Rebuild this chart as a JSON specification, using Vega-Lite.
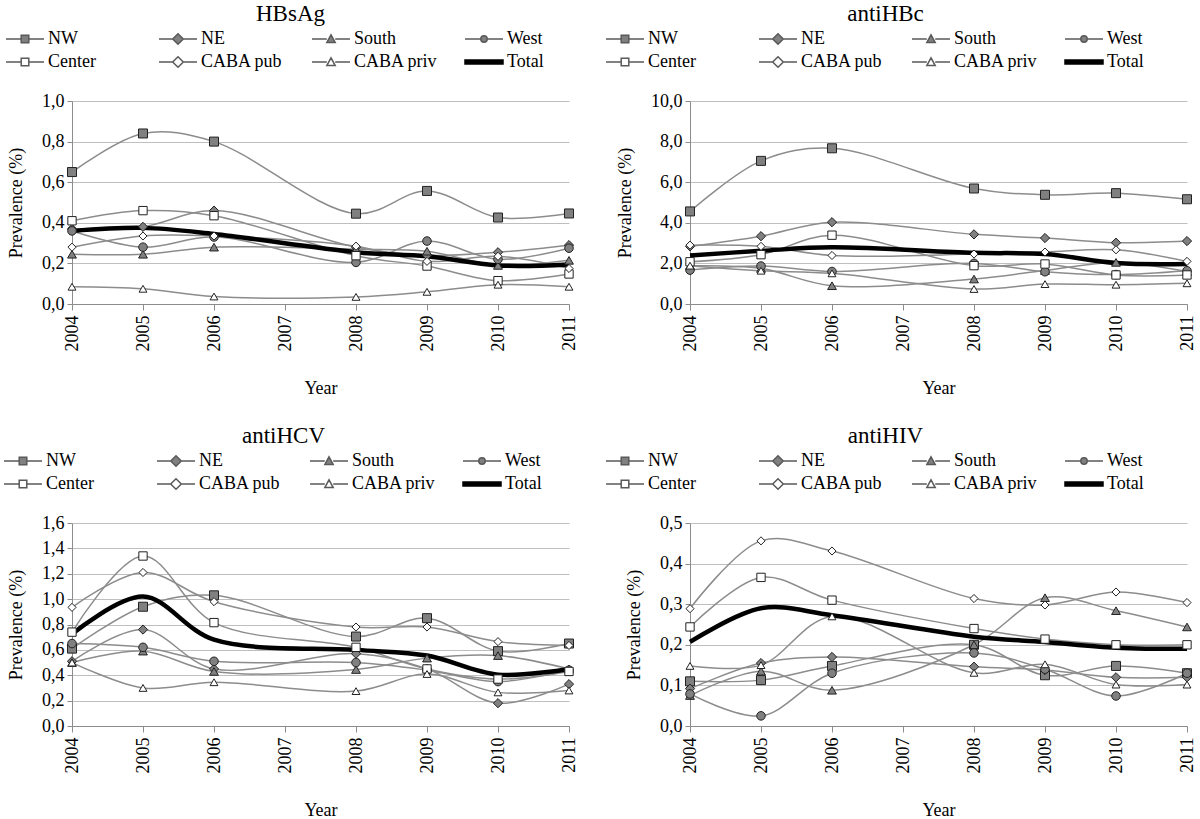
{
  "$schema": "https://vega.github.io/schema/vega-lite/v6.json",
  "background": "white",
  "padding": {"left": 7, "top": 3, "right": 0, "bottom": 0},
  "bounds": "flush",
  "columns": 2,
  "spacing": {"row": 219, "column": 121},
  "config": {
    "font": "Liberation Serif",
    "view": {"stroke": null},
    "title": {"font": "Liberation Serif", "fontSize": 23, "fontWeight": "normal", "color": "black", "anchor": "middle"},
    "legend": {"labelFont": "Liberation Serif", "labelFontSize": 18, "labelColor": "black"},
    "axis": {"labelFontSize": 18, "titleFontSize": 18, "titleFontWeight": "normal", "labelColor": "black", "titleColor": "black", "domainColor": "#8c8c8c", "tickColor": "#8c8c8c", "gridColor": "#bfbfbf"}
  },
  "data": {"values": [
    {"panel":"HBsAg","year":2004,"NW":0.65,"NE":0.37,"South":0.245,"West":0.36,"Center":0.41,"CABA pub":0.28,"CABA priv":0.085,"Total":0.36},
    {"panel":"HBsAg","year":2005,"NW":0.84,"NE":0.38,"South":0.245,"West":0.28,"Center":0.46,"CABA pub":0.335,"CABA priv":0.075,"Total":0.375},
    {"panel":"HBsAg","year":2006,"NW":0.80,"NE":0.46,"South":0.28,"West":0.33,"Center":0.435,"CABA pub":0.335,"CABA priv":0.037,"Total":0.345},
    {"panel":"HBsAg","year":2008,"NW":0.445,"NE":0.28,"South":0.27,"West":0.205,"Center":0.238,"CABA pub":0.285,"CABA priv":0.035,"Total":0.255},
    {"panel":"HBsAg","year":2009,"NW":0.557,"NE":0.24,"South":0.26,"West":0.31,"Center":0.187,"CABA pub":0.21,"CABA priv":0.06,"Total":0.235},
    {"panel":"HBsAg","year":2010,"NW":0.426,"NE":0.255,"South":0.19,"West":0.22,"Center":0.115,"CABA pub":0.235,"CABA priv":0.095,"Total":0.19},
    {"panel":"HBsAg","year":2011,"NW":0.446,"NE":0.29,"South":0.215,"West":0.275,"Center":0.148,"CABA pub":0.175,"CABA priv":0.085,"Total":0.195},
    {"panel":"antiHBc","year":2004,"NW":4.56,"NE":2.84,"South":1.88,"West":1.67,"Center":2.08,"CABA pub":2.9,"CABA priv":1.89,"Total":2.39},
    {"panel":"antiHBc","year":2005,"NW":7.05,"NE":3.34,"South":1.75,"West":1.87,"Center":2.43,"CABA pub":2.84,"CABA priv":1.64,"Total":2.62},
    {"panel":"antiHBc","year":2006,"NW":7.67,"NE":4.03,"South":0.9,"West":1.6,"Center":3.39,"CABA pub":2.39,"CABA priv":1.51,"Total":2.79},
    {"panel":"antiHBc","year":2008,"NW":5.69,"NE":3.43,"South":1.23,"West":2.0,"Center":1.89,"CABA pub":2.46,"CABA priv":0.74,"Total":2.52},
    {"panel":"antiHBc","year":2009,"NW":5.38,"NE":3.25,"South":1.65,"West":1.59,"Center":1.97,"CABA pub":2.56,"CABA priv":0.98,"Total":2.46},
    {"panel":"antiHBc","year":2010,"NW":5.46,"NE":3.02,"South":2.05,"West":1.45,"Center":1.43,"CABA pub":2.67,"CABA priv":0.95,"Total":2.02},
    {"panel":"antiHBc","year":2011,"NW":5.16,"NE":3.1,"South":1.6,"West":1.64,"Center":1.43,"CABA pub":2.1,"CABA priv":1.02,"Total":1.97},
    {"panel":"antiHCV","year":2004,"NW":0.61,"NE":0.51,"South":0.5,"West":0.65,"Center":0.74,"CABA pub":0.935,"CABA priv":0.5,"Total":0.725},
    {"panel":"antiHCV","year":2005,"NW":0.94,"NE":0.76,"South":0.59,"West":0.62,"Center":1.34,"CABA pub":1.21,"CABA priv":0.3,"Total":1.02},
    {"panel":"antiHCV","year":2006,"NW":1.03,"NE":0.45,"South":0.43,"West":0.51,"Center":0.815,"CABA pub":0.98,"CABA priv":0.345,"Total":0.68},
    {"panel":"antiHCV","year":2008,"NW":0.705,"NE":0.57,"South":0.445,"West":0.5,"Center":0.62,"CABA pub":0.78,"CABA priv":0.275,"Total":0.6},
    {"panel":"antiHCV","year":2009,"NW":0.85,"NE":0.45,"South":0.535,"West":0.44,"Center":0.45,"CABA pub":0.78,"CABA priv":0.41,"Total":0.555},
    {"panel":"antiHCV","year":2010,"NW":0.59,"NE":0.18,"South":0.555,"West":0.35,"Center":0.37,"CABA pub":0.665,"CABA priv":0.265,"Total":0.405},
    {"panel":"antiHCV","year":2011,"NW":0.65,"NE":0.33,"South":0.45,"West":0.44,"Center":0.43,"CABA pub":0.635,"CABA priv":0.28,"Total":0.45},
    {"panel":"antiHIV","year":2004,"NW":0.11,"NE":0.092,"South":0.075,"West":0.079,"Center":0.244,"CABA pub":0.289,"CABA priv":0.148,"Total":0.207},
    {"panel":"antiHIV","year":2005,"NW":0.113,"NE":0.155,"South":0.135,"West":0.025,"Center":0.366,"CABA pub":0.456,"CABA priv":0.15,"Total":0.29},
    {"panel":"antiHIV","year":2006,"NW":0.148,"NE":0.17,"South":0.088,"West":0.13,"Center":0.31,"CABA pub":0.431,"CABA priv":0.27,"Total":0.273},
    {"panel":"antiHIV","year":2008,"NW":0.2,"NE":0.146,"South":0.2,"West":0.18,"Center":0.24,"CABA pub":0.314,"CABA priv":0.131,"Total":0.22},
    {"panel":"antiHIV","year":2009,"NW":0.125,"NE":0.138,"South":0.316,"West":0.14,"Center":0.214,"CABA pub":0.298,"CABA priv":0.152,"Total":0.207},
    {"panel":"antiHIV","year":2010,"NW":0.148,"NE":0.12,"South":0.284,"West":0.074,"Center":0.2,"CABA pub":0.33,"CABA priv":0.102,"Total":0.193},
    {"panel":"antiHIV","year":2011,"NW":0.13,"NE":0.12,"South":0.244,"West":0.13,"Center":0.2,"CABA pub":0.304,"CABA priv":0.102,"Total":0.19}
  ]},
  "resolve": {
    "scale": {"shape": "independent", "fill": "independent", "size": "independent", "stroke": "independent"},
    "legend": {"shape": "independent", "fill": "independent", "size": "independent", "stroke": "independent"}
  },
  "concat": [
    {
      "width": 497, "height": 203,
      "title": {"text": "HBsAg", "dx": -30, "offset": 2},
      "transform": [{"filter": "datum.panel === 'HBsAg'"}, {"fold": ["NW","NE","South","West","Center","CABA pub","CABA priv","Total"], "as": ["series","value"]}],
      "encoding": {
        "x": {"field": "year", "type": "quantitative", "scale": {"domain": [2004, 2011], "zero": false, "nice": false}, "axis": {"values": [2004,2005,2006,2007,2008,2009,2010,2011], "format": "d", "labelAngle": 270, "grid": false, "tickSize": 6, "labelPadding": 5, "title": "Year", "titlePadding": 28, "labelFont": "Liberation Serif", "titleFont": "Liberation Serif"}},
        "y": {"field": "value", "type": "quantitative", "scale": {"domain": [0, 1], "nice": false}, "axis": {"values": [0,0.2,0.4,0.6,0.8,1], "labelExpr": "replace(format(datum.value, '.1f'), '.', ',')", "grid": true, "tickSize": 5, "labelPadding": 3, "title": "Prevalence (%)", "titlePadding": 16, "labelFont": "Liberation Serif", "titleFont": "Liberation Serif"}}
      },
      "resolve": {"scale": {"shape": "independent", "fill": "independent", "size": "independent", "stroke": "independent"}, "legend": {"shape": "independent", "fill": "independent", "size": "independent", "stroke": "independent"}},
      "layer": [
        {"transform": [{"filter": "datum.series !== 'Total'"}], "mark": {"type": "line", "interpolate": "catmull-rom", "color": "#8c8c8c", "strokeWidth": 1.5}, "encoding": {"detail": {"field": "series"}}},
        {"transform": [{"filter": "datum.series === 'Total'"}], "mark": {"type": "line", "interpolate": "catmull-rom", "color": "black", "strokeWidth": 4.5}, "encoding": {"detail": {"field": "series"}}},
        {"transform": [{"filter": "datum.series !== 'Total'"}], "mark": {"type": "point", "filled": true, "stroke": "#222222", "strokeWidth": 1, "opacity": 1},
         "encoding": {
           "shape": {"field": "series", "type": "nominal", "scale": {"domain": ["Total","CABA priv","CABA pub","Center","West","South","NE","NW"], "range": ["circle","triangle-up","diamond","square","circle","triangle-up","diamond","square"]}, "legend": null},
           "fill": {"field": "series", "type": "nominal", "scale": {"domain": ["Total","CABA priv","CABA pub","Center","West","South","NE","NW"], "range": ["transparent","white","white","white","#808080","#808080","#808080","#808080"]}, "legend": null},
           "size": {"field": "series", "type": "nominal", "scale": {"domain": ["NE","NW","South","West","Center","CABA pub","CABA priv","Total"], "range": [85,58,62,50,58,85,62,50]}, "legend": null}
         }},
        {"transform": [{"filter": "false"}], "mark": {"type": "point", "filled": true, "opacity": 1, "strokeWidth": 1.2},
         "encoding": {
           "shape": {"field": "series", "type": "nominal", "scale": {"domain": ["NW","NE","South","West","Center","CABA pub","CABA priv","Total"], "range": ["M-1.9,0H-0.38M0.38,0H1.9M-0.38,-0.38H0.38V0.38H-0.38Z","M-1.9,0H-0.53M0.53,0H1.9M-0.53,0L0,-0.53L0.53,0L0,0.53Z","M-1.9,0H-0.42M0.42,0H1.9M-0.42,0.36L0,-0.42L0.42,0.36Z","M-1.9,0H-0.32M0.32,0H1.9M-0.32,0A0.32,0.32,0,1,0,0.32,0A0.32,0.32,0,1,0,-0.32,0Z","M-1.9,0H-0.38M0.38,0H1.9M-0.38,-0.38H0.38V0.38H-0.38Z","M-1.9,0H-0.53M0.53,0H1.9M-0.53,0L0,-0.53L0.53,0L0,0.53Z","M-1.9,0H-0.42M0.42,0H1.9M-0.42,0.36L0,-0.42L0.42,0.36Z","M-1.9,-0.2H1.9V0.2H-1.9Z"]},
             "legend": {"orient": "none", "legendX": -58, "legendY": -73, "columns": 4, "direction": "horizontal", "gridAlign": "all", "columnPadding": 24, "rowPadding": 3, "symbolSize": 400, "labelOffset": 12, "title": null, "padding": 0}},
           "fill": {"field": "series", "type": "nominal", "scale": {"domain": ["NW","NE","South","West","Center","CABA pub","CABA priv","Total"], "range": ["#808080","#808080","#808080","#808080","white","white","white","black"]}},
           "stroke": {"field": "series", "type": "nominal", "scale": {"domain": ["NW","NE","South","West","Center","CABA pub","CABA priv","Total"], "range": ["#595959","#595959","#595959","#595959","#595959","#595959","#595959","black"]}}
         }}
      ]
    },
    {
      "width": 497, "height": 203,
      "title": {"text": "antiHBc", "dx": -53, "offset": 2},
      "transform": [{"filter": "datum.panel === 'antiHBc'"}, {"fold": ["NW","NE","South","West","Center","CABA pub","CABA priv","Total"], "as": ["series","value"]}],
      "encoding": {
        "x": {"field": "year", "type": "quantitative", "scale": {"domain": [2004, 2011], "zero": false, "nice": false}, "axis": {"values": [2004,2005,2006,2007,2008,2009,2010,2011], "format": "d", "labelAngle": 270, "grid": false, "tickSize": 6, "labelPadding": 5, "title": "Year", "titlePadding": 28, "labelFont": "Liberation Serif", "titleFont": "Liberation Serif"}},
        "y": {"field": "value", "type": "quantitative", "scale": {"domain": [0, 10], "nice": false}, "axis": {"values": [0,2,4,6,8,10], "labelExpr": "replace(format(datum.value, '.1f'), '.', ',')", "grid": true, "tickSize": 5, "labelPadding": 3, "title": "Prevalence (%)", "titlePadding": 16, "labelFont": "Liberation Serif", "titleFont": "Liberation Serif"}}
      },
      "resolve": {"scale": {"shape": "independent", "fill": "independent", "size": "independent", "stroke": "independent"}, "legend": {"shape": "independent", "fill": "independent", "size": "independent", "stroke": "independent"}},
      "layer": [
        {"transform": [{"filter": "datum.series !== 'Total'"}], "mark": {"type": "line", "interpolate": "catmull-rom", "color": "#8c8c8c", "strokeWidth": 1.5}, "encoding": {"detail": {"field": "series"}}},
        {"transform": [{"filter": "datum.series === 'Total'"}], "mark": {"type": "line", "interpolate": "catmull-rom", "color": "black", "strokeWidth": 4.5}, "encoding": {"detail": {"field": "series"}}},
        {"transform": [{"filter": "datum.series !== 'Total'"}], "mark": {"type": "point", "filled": true, "stroke": "#222222", "strokeWidth": 1, "opacity": 1},
         "encoding": {
           "shape": {"field": "series", "type": "nominal", "scale": {"domain": ["Total","CABA priv","CABA pub","Center","West","South","NE","NW"], "range": ["circle","triangle-up","diamond","square","circle","triangle-up","diamond","square"]}, "legend": null},
           "fill": {"field": "series", "type": "nominal", "scale": {"domain": ["Total","CABA priv","CABA pub","Center","West","South","NE","NW"], "range": ["transparent","white","white","white","#808080","#808080","#808080","#808080"]}, "legend": null},
           "size": {"field": "series", "type": "nominal", "scale": {"domain": ["NE","NW","South","West","Center","CABA pub","CABA priv","Total"], "range": [85,58,62,50,58,85,62,50]}, "legend": null}
         }},
        {"transform": [{"filter": "false"}], "mark": {"type": "point", "filled": true, "opacity": 1, "strokeWidth": 1.2},
         "encoding": {
           "shape": {"field": "series", "type": "nominal", "scale": {"domain": ["NW","NE","South","West","Center","CABA pub","CABA priv","Total"], "range": ["M-1.9,0H-0.38M0.38,0H1.9M-0.38,-0.38H0.38V0.38H-0.38Z","M-1.9,0H-0.53M0.53,0H1.9M-0.53,0L0,-0.53L0.53,0L0,0.53Z","M-1.9,0H-0.42M0.42,0H1.9M-0.42,0.36L0,-0.42L0.42,0.36Z","M-1.9,0H-0.32M0.32,0H1.9M-0.32,0A0.32,0.32,0,1,0,0.32,0A0.32,0.32,0,1,0,-0.32,0Z","M-1.9,0H-0.38M0.38,0H1.9M-0.38,-0.38H0.38V0.38H-0.38Z","M-1.9,0H-0.53M0.53,0H1.9M-0.53,0L0,-0.53L0.53,0L0,0.53Z","M-1.9,0H-0.42M0.42,0H1.9M-0.42,0.36L0,-0.42L0.42,0.36Z","M-1.9,-0.2H1.9V0.2H-1.9Z"]},
             "legend": {"orient": "none", "legendX": -76, "legendY": -73, "columns": 4, "direction": "horizontal", "gridAlign": "all", "columnPadding": 24, "rowPadding": 3, "symbolSize": 400, "labelOffset": 12, "title": null, "padding": 0}},
           "fill": {"field": "series", "type": "nominal", "scale": {"domain": ["NW","NE","South","West","Center","CABA pub","CABA priv","Total"], "range": ["#808080","#808080","#808080","#808080","white","white","white","black"]}},
           "stroke": {"field": "series", "type": "nominal", "scale": {"domain": ["NW","NE","South","West","Center","CABA pub","CABA priv","Total"], "range": ["#595959","#595959","#595959","#595959","#595959","#595959","#595959","black"]}}
         }}
      ]
    },
    {
      "width": 497, "height": 203,
      "title": {"text": "antiHCV", "dx": -37, "offset": 2},
      "transform": [{"filter": "datum.panel === 'antiHCV'"}, {"fold": ["NW","NE","South","West","Center","CABA pub","CABA priv","Total"], "as": ["series","value"]}],
      "encoding": {
        "x": {"field": "year", "type": "quantitative", "scale": {"domain": [2004, 2011], "zero": false, "nice": false}, "axis": {"values": [2004,2005,2006,2007,2008,2009,2010,2011], "format": "d", "labelAngle": 270, "grid": false, "tickSize": 6, "labelPadding": 5, "title": "Year", "titlePadding": 28, "labelFont": "Liberation Serif", "titleFont": "Liberation Serif"}},
        "y": {"field": "value", "type": "quantitative", "scale": {"domain": [0, 1.6], "nice": false}, "axis": {"values": [0,0.2,0.4,0.6,0.8,1,1.2,1.4,1.6], "labelExpr": "replace(format(datum.value, '.1f'), '.', ',')", "grid": true, "tickSize": 5, "labelPadding": 3, "title": "Prevalence (%)", "titlePadding": 16, "labelFont": "Liberation Serif", "titleFont": "Liberation Serif"}}
      },
      "resolve": {"scale": {"shape": "independent", "fill": "independent", "size": "independent", "stroke": "independent"}, "legend": {"shape": "independent", "fill": "independent", "size": "independent", "stroke": "independent"}},
      "layer": [
        {"transform": [{"filter": "datum.series !== 'Total'"}], "mark": {"type": "line", "interpolate": "catmull-rom", "color": "#8c8c8c", "strokeWidth": 1.5}, "encoding": {"detail": {"field": "series"}}},
        {"transform": [{"filter": "datum.series === 'Total'"}], "mark": {"type": "line", "interpolate": "catmull-rom", "color": "black", "strokeWidth": 4.5}, "encoding": {"detail": {"field": "series"}}},
        {"transform": [{"filter": "datum.series !== 'Total'"}], "mark": {"type": "point", "filled": true, "stroke": "#222222", "strokeWidth": 1, "opacity": 1},
         "encoding": {
           "shape": {"field": "series", "type": "nominal", "scale": {"domain": ["Total","CABA priv","CABA pub","Center","West","South","NE","NW"], "range": ["circle","triangle-up","diamond","square","circle","triangle-up","diamond","square"]}, "legend": null},
           "fill": {"field": "series", "type": "nominal", "scale": {"domain": ["Total","CABA priv","CABA pub","Center","West","South","NE","NW"], "range": ["transparent","white","white","white","#808080","#808080","#808080","#808080"]}, "legend": null},
           "size": {"field": "series", "type": "nominal", "scale": {"domain": ["NE","NW","South","West","Center","CABA pub","CABA priv","Total"], "range": [85,58,62,50,58,85,62,50]}, "legend": null}
         }},
        {"transform": [{"filter": "false"}], "mark": {"type": "point", "filled": true, "opacity": 1, "strokeWidth": 1.2},
         "encoding": {
           "shape": {"field": "series", "type": "nominal", "scale": {"domain": ["NW","NE","South","West","Center","CABA pub","CABA priv","Total"], "range": ["M-1.9,0H-0.38M0.38,0H1.9M-0.38,-0.38H0.38V0.38H-0.38Z","M-1.9,0H-0.53M0.53,0H1.9M-0.53,0L0,-0.53L0.53,0L0,0.53Z","M-1.9,0H-0.42M0.42,0H1.9M-0.42,0.36L0,-0.42L0.42,0.36Z","M-1.9,0H-0.32M0.32,0H1.9M-0.32,0A0.32,0.32,0,1,0,0.32,0A0.32,0.32,0,1,0,-0.32,0Z","M-1.9,0H-0.38M0.38,0H1.9M-0.38,-0.38H0.38V0.38H-0.38Z","M-1.9,0H-0.53M0.53,0H1.9M-0.53,0L0,-0.53L0.53,0L0,0.53Z","M-1.9,0H-0.42M0.42,0H1.9M-0.42,0.36L0,-0.42L0.42,0.36Z","M-1.9,-0.2H1.9V0.2H-1.9Z"]},
             "legend": {"orient": "none", "legendX": -60, "legendY": -73, "columns": 4, "direction": "horizontal", "gridAlign": "all", "columnPadding": 24, "rowPadding": 3, "symbolSize": 400, "labelOffset": 12, "title": null, "padding": 0}},
           "fill": {"field": "series", "type": "nominal", "scale": {"domain": ["NW","NE","South","West","Center","CABA pub","CABA priv","Total"], "range": ["#808080","#808080","#808080","#808080","white","white","white","black"]}},
           "stroke": {"field": "series", "type": "nominal", "scale": {"domain": ["NW","NE","South","West","Center","CABA pub","CABA priv","Total"], "range": ["#595959","#595959","#595959","#595959","#595959","#595959","#595959","black"]}}
         }}
      ]
    },
    {
      "width": 497, "height": 203,
      "title": {"text": "antiHIV", "dx": -53, "offset": 2},
      "transform": [{"filter": "datum.panel === 'antiHIV'"}, {"fold": ["NW","NE","South","West","Center","CABA pub","CABA priv","Total"], "as": ["series","value"]}],
      "encoding": {
        "x": {"field": "year", "type": "quantitative", "scale": {"domain": [2004, 2011], "zero": false, "nice": false}, "axis": {"values": [2004,2005,2006,2007,2008,2009,2010,2011], "format": "d", "labelAngle": 270, "grid": false, "tickSize": 6, "labelPadding": 5, "title": "Year", "titlePadding": 28, "labelFont": "Liberation Serif", "titleFont": "Liberation Serif"}},
        "y": {"field": "value", "type": "quantitative", "scale": {"domain": [0, 0.5], "nice": false}, "axis": {"values": [0,0.1,0.2,0.3,0.4,0.5], "labelExpr": "replace(format(datum.value, '.1f'), '.', ',')", "grid": true, "tickSize": 5, "labelPadding": 3, "title": "Prevalence (%)", "titlePadding": 16, "labelFont": "Liberation Serif", "titleFont": "Liberation Serif"}}
      },
      "resolve": {"scale": {"shape": "independent", "fill": "independent", "size": "independent", "stroke": "independent"}, "legend": {"shape": "independent", "fill": "independent", "size": "independent", "stroke": "independent"}},
      "layer": [
        {"transform": [{"filter": "datum.series !== 'Total'"}], "mark": {"type": "line", "interpolate": "catmull-rom", "color": "#8c8c8c", "strokeWidth": 1.5}, "encoding": {"detail": {"field": "series"}}},
        {"transform": [{"filter": "datum.series === 'Total'"}], "mark": {"type": "line", "interpolate": "catmull-rom", "color": "black", "strokeWidth": 4.5}, "encoding": {"detail": {"field": "series"}}},
        {"transform": [{"filter": "datum.series !== 'Total'"}], "mark": {"type": "point", "filled": true, "stroke": "#222222", "strokeWidth": 1, "opacity": 1},
         "encoding": {
           "shape": {"field": "series", "type": "nominal", "scale": {"domain": ["Total","CABA priv","CABA pub","Center","West","South","NE","NW"], "range": ["circle","triangle-up","diamond","square","circle","triangle-up","diamond","square"]}, "legend": null},
           "fill": {"field": "series", "type": "nominal", "scale": {"domain": ["Total","CABA priv","CABA pub","Center","West","South","NE","NW"], "range": ["transparent","white","white","white","#808080","#808080","#808080","#808080"]}, "legend": null},
           "size": {"field": "series", "type": "nominal", "scale": {"domain": ["NE","NW","South","West","Center","CABA pub","CABA priv","Total"], "range": [85,58,62,50,58,85,62,50]}, "legend": null}
         }},
        {"transform": [{"filter": "false"}], "mark": {"type": "point", "filled": true, "opacity": 1, "strokeWidth": 1.2},
         "encoding": {
           "shape": {"field": "series", "type": "nominal", "scale": {"domain": ["NW","NE","South","West","Center","CABA pub","CABA priv","Total"], "range": ["M-1.9,0H-0.38M0.38,0H1.9M-0.38,-0.38H0.38V0.38H-0.38Z","M-1.9,0H-0.53M0.53,0H1.9M-0.53,0L0,-0.53L0.53,0L0,0.53Z","M-1.9,0H-0.42M0.42,0H1.9M-0.42,0.36L0,-0.42L0.42,0.36Z","M-1.9,0H-0.32M0.32,0H1.9M-0.32,0A0.32,0.32,0,1,0,0.32,0A0.32,0.32,0,1,0,-0.32,0Z","M-1.9,0H-0.38M0.38,0H1.9M-0.38,-0.38H0.38V0.38H-0.38Z","M-1.9,0H-0.53M0.53,0H1.9M-0.53,0L0,-0.53L0.53,0L0,0.53Z","M-1.9,0H-0.42M0.42,0H1.9M-0.42,0.36L0,-0.42L0.42,0.36Z","M-1.9,-0.2H1.9V0.2H-1.9Z"]},
             "legend": {"orient": "none", "legendX": -76, "legendY": -73, "columns": 4, "direction": "horizontal", "gridAlign": "all", "columnPadding": 24, "rowPadding": 3, "symbolSize": 400, "labelOffset": 12, "title": null, "padding": 0}},
           "fill": {"field": "series", "type": "nominal", "scale": {"domain": ["NW","NE","South","West","Center","CABA pub","CABA priv","Total"], "range": ["#808080","#808080","#808080","#808080","white","white","white","black"]}},
           "stroke": {"field": "series", "type": "nominal", "scale": {"domain": ["NW","NE","South","West","Center","CABA pub","CABA priv","Total"], "range": ["#595959","#595959","#595959","#595959","#595959","#595959","#595959","black"]}}
         }}
      ]
    }
  ]
}
